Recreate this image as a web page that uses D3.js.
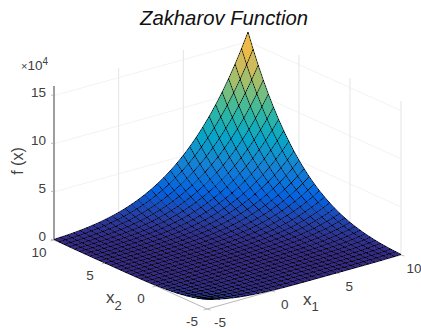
<!DOCTYPE html>
<html>
<head>
<meta charset="utf-8">
<script src="https://cdnjs.cloudflare.com/ajax/libs/d3/7.8.5/d3.min.js"></script>
<style>
  html, body { margin: 0; padding: 0; background: #fff; }
  text { font-family: "Liberation Sans", Arial, sans-serif; fill: #404040; }
</style>
</head>
<body>
<div id="surface-plot"></div>
<script>
const x1Grid = [-5,-4.5,-4,-3.5,-3,-2.5,-2,-1.5,-1,-0.5,0,0.5,1,1.5,2,2.5,3,3.5,4,4.5,5,5.5,6,6.5,7,7.5,8,8.5,9,9.5,10];
const x2Grid = [-5,-4.5,-4,-3.5,-3,-2.5,-2,-1.5,-1,-0.5,0,0.5,1,1.5,2,2.5,3,3.5,4,4.5,5,5.5,6,6.5,7,7.5,8,8.5,9,9.5,10];
// height read along the diagonals of the surface, one value per half step of x1 + x2 (from -10 to 20)
const diagonalHeights = [10000,8145,6561,5220,4096,3164,2401,1785,1296,915,625,410,256,150,81,39,16,5,1,0,0,0,1,5,16,39,81,150,256,410,625,915,1296,1785,2401,3164,4096,5220,6561,8145,10000,12155,14641,17490,20736,24414,28561,33215,38416,44205,50625,57720,65536,74120,83521,93789,104976,117135,130321,144590,160000];
const x1Ticks = [-5, 0, 5, 10];
const x2Ticks = [-5, 0, 5, 10];
const zTicks = [0, 5, 10, 15];
const parula = ["#352a87","#0363e1","#1485d4","#06a7c6","#38b99e","#92bf73","#d9ba56","#fcbb3e","#f9fb0e"];

function plot_surface(){
    const width = 421;
    const height = 329;

    let svg = d3.select("#surface-plot")
        .append("svg")
        .attr("width", width)
        .attr("height", height)
        .style("display", "block");

    // hardens the thin mesh lines so they break up the way the downsampled original does
    svg.append("defs")
        .append("filter")
        .attr("id", "mesh-alias")
        .attr("filterUnits", "userSpaceOnUse")
        .attr("x", 0).attr("y", 0).attr("width", width).attr("height", height)
        .attr("color-interpolation-filters", "sRGB")
        .append("feComponentTransfer")
        .append("feFuncA")
        .attr("type", "table")
        .attr("tableValues", "0 0.12 0.2 0.3 0.6 1 1 1");

    // projection of the box: each data axis moves the point in both screen directions
    let x1ToX = d3.scaleLinear().domain([-5, 10]).range([0, 194]);
    let x1ToY = d3.scaleLinear().domain([-5, 10]).range([0, -54]);
    let x2ToX = d3.scaleLinear().domain([-5, 10]).range([153, 0]);
    let x2ToY = d3.scaleLinear().domain([-5, 10]).range([69, 0]);
    let zToY = d3.scaleLinear().domain([0, 160000]).range([0, -154]);

    const px = (a, b) => 54 + x1ToX(a) + x2ToX(b);
    const py = (a, b, c) => 240 + x1ToY(a) + x2ToY(b) + zToY(c);

    let color = d3.scaleLinear()
        .domain(parula.map((c, i) => 160000 * i / (parula.length - 1)))
        .range(parula);

    const zAt = (i, j) => diagonalHeights[i + j];
    const vertex = (i, j) => [px(x1Grid[i], x2Grid[j]), py(x1Grid[i], x2Grid[j], zAt(i, j))];

    // walls
    let walls = svg.append("g").attr("fill", "none");
    x1Ticks.slice(1).forEach(a => {
        walls.append("line")
            .attr("x1", px(a, 10)).attr("x2", px(a, 10))
            .attr("y1", py(a, 10, 0)).attr("y2", py(a, 10, 160000))
            .attr("stroke", "#d9d9d9").attr("stroke-width", 0.7);
    });
    x2Ticks.slice(0, 3).forEach(b => {
        walls.append("line")
            .attr("x1", px(10, b)).attr("x2", px(10, b))
            .attr("y1", py(10, b, 0)).attr("y2", py(10, b, 160000))
            .attr("stroke", "#d9d9d9").attr("stroke-width", 0.7);
    });
    zTicks.slice(1).forEach(t => {
        walls.append("path")
            .attr("d", d3.line()([
                [px(-5, 10), py(-5, 10, t * 1e4)],
                [px(10, 10), py(10, 10, t * 1e4)],
                [px(10, -5), py(10, -5, t * 1e4)]
            ]))
            .attr("stroke", "#ececec").attr("stroke-width", 0.7);
    });

    // floor edges under the surface
    walls.append("path")
        .attr("d", d3.line()([
            [px(-5, 10), py(-5, 10, 0)],
            [px(-5, -5), py(-5, -5, 0)],
            [px(10, -5), py(10, -5, 0)]
        ]))
        .attr("stroke", "#a6a6a6").attr("stroke-width", 0.8);

    // facets, back to front; flat colour comes from the lowest index corner
    let facets = [];
    for (let i = 0; i < x1Grid.length - 1; i++) {
        for (let j = 0; j < x2Grid.length - 1; j++) {
            facets.push({i: i, j: j});
        }
    }
    facets.sort((p, q) => (q.i + q.j) - (p.i + p.j));

    svg.append("g")
        .selectAll("path")
        .data(facets)
        .enter()
        .append("path")
        .attr("d", d => d3.line()([
            vertex(d.i, d.j), vertex(d.i + 1, d.j), vertex(d.i + 1, d.j + 1), vertex(d.i, d.j + 1)
        ]) + "Z")
        .attr("fill", d => color(zAt(d.i, d.j)))
        .attr("stroke", d => color(zAt(d.i, d.j)))
        .attr("stroke-width", 0.4);

    // mesh lines along both grid directions
    let meshLines = [];
    x1Grid.forEach((a, i) => meshLines.push(x2Grid.map((b, j) => vertex(i, j))));
    x2Grid.forEach((b, j) => meshLines.push(x1Grid.map((a, i) => vertex(i, j))));

    svg.append("g")
        .attr("filter", "url(#mesh-alias)")
        .attr("fill", "none")
        .attr("stroke", "#000")
        .attr("stroke-width", 0.7)
        .selectAll("path")
        .data(meshLines)
        .enter()
        .append("path")
        .attr("d", d3.line());

    // z axis
    svg.append("line")
        .attr("x1", 54).attr("x2", 54)
        .attr("y1", py(-5, 10, 0)).attr("y2", py(-5, 10, 160000))
        .attr("stroke", "#262626").attr("stroke-width", 0.9);

    let zLabels = svg.append("g").attr("font-size", 13.5).attr("text-anchor", "end");
    zTicks.forEach(t => {
        let y = py(-5, 10, t * 1e4);
        svg.append("line")
            .attr("x1", 51).attr("x2", 54).attr("y1", y - 0.6).attr("y2", y)
            .attr("stroke", "#a6a6a6").attr("stroke-width", 0.7);
        zLabels.append("text").attr("x", 46).attr("y", y + 1).text(t);
    });

    // tick labels on the floor edges
    let floorLabels = svg.append("g").attr("font-size", 13.5).attr("text-anchor", "middle");
    x2Ticks.forEach(b => {
        floorLabels.append("text")
            .attr("x", px(-5, b) - 15)
            .attr("y", py(-5, b, 0) + 17)
            .text(b);
        svg.append("line")
            .attr("x1", px(-5, b)).attr("x2", px(-5, b) - 3.5)
            .attr("y1", py(-5, b, 0)).attr("y2", py(-5, b, 0) + 1)
            .attr("stroke", "#a6a6a6").attr("stroke-width", 0.7);
    });
    x1Ticks.forEach(a => {
        floorLabels.append("text")
            .attr("x", px(a, -5) + 13)
            .attr("y", py(a, -5, 0) + 18)
            .text(a);
        svg.append("line")
            .attr("x1", px(a, -5)).attr("x2", px(a, -5) + 3.5)
            .attr("y1", py(a, -5, 0)).attr("y2", py(a, -5, 0) + 1)
            .attr("stroke", "#a6a6a6").attr("stroke-width", 0.7);
    });

    // exponent
    let exponent = svg.append("text").attr("x", 21).attr("y", 70).attr("font-size", 13.5);
    exponent.append("tspan").text("\u00D7").attr("font-size", 11);
    exponent.append("tspan").text("10");
    exponent.append("tspan").text("4").attr("font-size", 10).attr("dy", -5);

    // axis titles
    svg.append("text")
        .attr("font-size", 16)
        .attr("text-anchor", "middle")
        .attr("transform", "translate(23,161) rotate(-90)")
        .text("f (x)");

    let x2Label = svg.append("text").attr("x", 106).attr("y", 303).attr("font-size", 17);
    x2Label.append("tspan").text("x");
    x2Label.append("tspan").text("2").attr("font-size", 13).attr("dy", 7);

    let x1Label = svg.append("text").attr("x", 303).attr("y", 305).attr("font-size", 17);
    x1Label.append("tspan").text("x");
    x1Label.append("tspan").text("1").attr("font-size", 13).attr("dy", 6);

    svg.append("text")
        .attr("x", 224)
        .attr("y", 25)
        .attr("text-anchor", "middle")
        .attr("font-size", 20.3)
        .attr("font-style", "italic")
        .style("fill", "#111")
        .text("Zakharov Function");
}

plot_surface();
</script>
</body>
</html>
